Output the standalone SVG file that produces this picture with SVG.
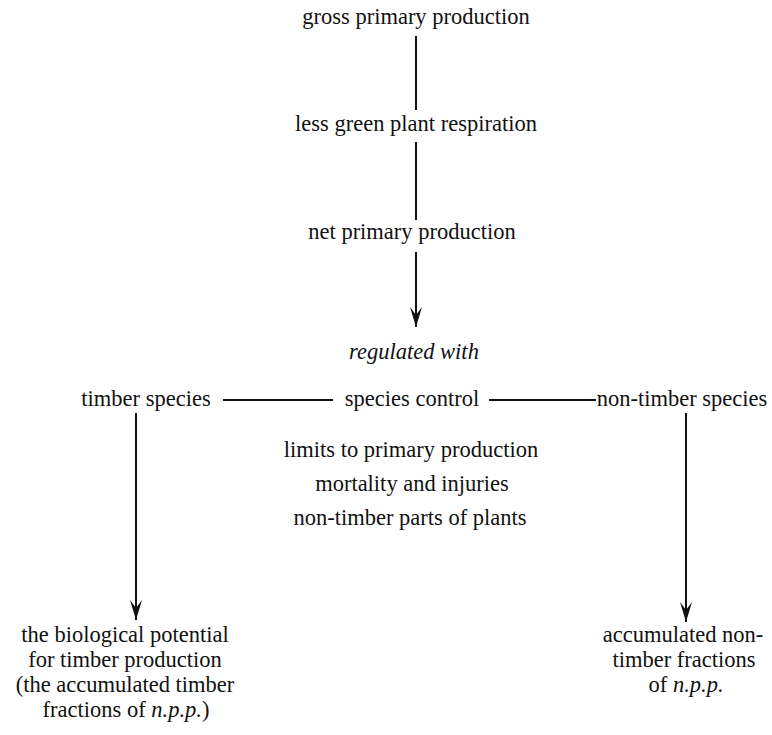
<svg xmlns="http://www.w3.org/2000/svg" width="772" height="735" viewBox="0 0 772 735">
<defs>
<style>
text{font-size:22.5px;fill:#111;text-anchor:middle}
.it{font-style:italic}
.ln{stroke:#111;stroke-width:2;fill:none}
</style>
<marker id="ah" viewBox="0 0 20 12" refX="20" refY="6" markerWidth="20" markerHeight="12" markerUnits="userSpaceOnUse" orient="auto">
<path d="M0,0 L20,6 L0,12 L8,6 Z" fill="#111"/>
</marker>
</defs>
<rect width="772" height="735" fill="#fff"/>
<g id="connectors">
<line class="ln" x1="416" y1="36" x2="416" y2="110"/>
<line class="ln" x1="416" y1="142" x2="416" y2="220"/>
<path class="ln" d="M416,252 V327" marker-end="url(#ah)"/>
<line class="ln" x1="223" y1="400" x2="333" y2="400"/>
<line class="ln" x1="489" y1="400" x2="596" y2="400"/>
<path class="ln" d="M136,413 V620" marker-end="url(#ah)"/>
<path class="ln" d="M686,413 V622" marker-end="url(#ah)"/>
</g>
<g font-family="Liberation Serif, DejaVu Serif, serif">
<g id="n1"><text x="416" y="24">gross primary production</text></g>
<g id="n2"><text x="416" y="131">less green  plant respiration</text></g>
<g id="n3"><text x="412" y="239">net primary production</text></g>
<g id="n4"><text class="it" x="414" y="359">regulated with</text></g>
<g id="n5"><text x="146" y="406">timber species</text></g>
<g id="n6"><text x="412" y="406">species control</text></g>
<g id="n7"><text x="682" y="406">non-timber species</text></g>
<g id="n8"><text x="411" y="457">limits to primary production</text></g>
<g id="n9"><text x="412" y="491">mortality and injuries</text></g>
<g id="n10"><text x="410" y="525">non-timber parts of plants</text></g>
<g id="n11">
<text x="125" y="642">the biological potential</text>
<text x="125" y="667">for timber production</text>
<text x="125" y="692">(the accumulated timber</text>
<text x="126" y="717">fractions of <tspan class="it">n.p.p.</tspan>)</text>
</g>
<g id="n12">
<text x="683" y="642">accumulated non-</text>
<text x="684" y="667">timber fractions</text>
<text x="686" y="692">of <tspan class="it">n.p.p.</tspan></text>
</g>
</g>
</svg>
